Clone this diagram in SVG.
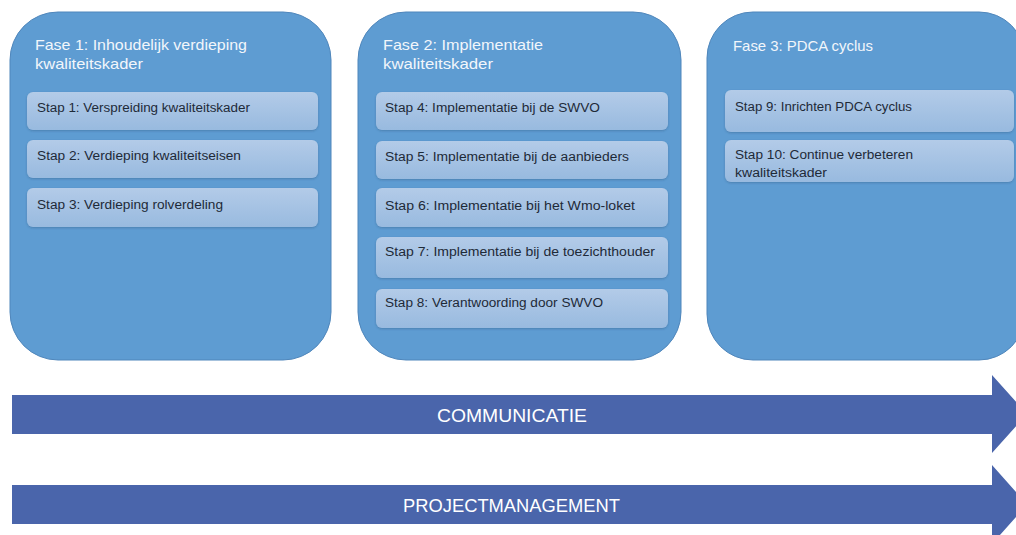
<svg xmlns="http://www.w3.org/2000/svg" width="1016" height="535" viewBox="0 0 1016 535">
<defs>
<linearGradient id="boxg" x1="0" y1="0" x2="0" y2="1">
<stop offset="0" stop-color="#b3cbe8"/>
<stop offset="1" stop-color="#98badf"/>
</linearGradient>
<filter id="sh" x="-5%" y="-5%" width="110%" height="115%">
<feDropShadow dx="0" dy="1" stdDeviation="1" flood-color="#2c4a70" flood-opacity="0.35"/>
</filter>
</defs>
<style>
.panel{fill:#5e9cd2;stroke:#4f86bb;stroke-width:1}
.box{fill:url(#boxg);stroke:none}
.title{font-family:"Liberation Sans",Arial,sans-serif;font-size:15px;fill:#f2f6fb}
.step{font-family:"Liberation Sans",Arial,sans-serif;font-size:12.5px;fill:#1e2a38}
.arrow{fill:#4a65ab}
.atext{font-family:"Liberation Sans",Arial,sans-serif;font-size:18px;fill:#ffffff;text-anchor:middle}
</style>
<rect width="1016" height="535" fill="#ffffff"/>

<g id="fase1">
<rect class="panel" x="10" y="12" width="321" height="348" rx="48" ry="48"/>
<text class="title" x="35" y="50" textLength="212" lengthAdjust="spacingAndGlyphs">Fase 1: Inhoudelijk verdieping</text>
<text class="title" x="35" y="69" textLength="108" lengthAdjust="spacingAndGlyphs">kwaliteitskader</text>
</g>
<g id="stap1">
<rect class="box" x="27" y="92" width="291" height="38" rx="6" filter="url(#sh)"/>
<text class="step" x="37" y="112" textLength="213" lengthAdjust="spacingAndGlyphs">Stap 1: Verspreiding kwaliteitskader</text>
</g>
<g id="stap2">
<rect class="box" x="27" y="140" width="291" height="38" rx="6" filter="url(#sh)"/>
<text class="step" x="37" y="160" textLength="204" lengthAdjust="spacingAndGlyphs">Stap 2: Verdieping kwaliteitseisen</text>
</g>
<g id="stap3">
<rect class="box" x="27" y="188" width="291" height="39" rx="6" filter="url(#sh)"/>
<text class="step" x="37" y="209" textLength="186" lengthAdjust="spacingAndGlyphs">Stap 3: Verdieping rolverdeling</text>
</g>

<g id="fase2">
<rect class="panel" x="358" y="12" width="323" height="348" rx="48" ry="48"/>
<text class="title" x="383" y="50" textLength="160" lengthAdjust="spacingAndGlyphs">Fase 2: Implementatie</text>
<text class="title" x="383" y="69" textLength="110" lengthAdjust="spacingAndGlyphs">kwaliteitskader</text>
</g>
<g id="stap4">
<rect class="box" x="376" y="92" width="292" height="38" rx="6" filter="url(#sh)"/>
<text class="step" x="385" y="112" textLength="215" lengthAdjust="spacingAndGlyphs">Stap 4: Implementatie bij de SWVO</text>
</g>
<g id="stap5">
<rect class="box" x="376" y="141" width="292" height="38" rx="6" filter="url(#sh)"/>
<text class="step" x="385" y="161" textLength="244" lengthAdjust="spacingAndGlyphs">Stap 5: Implementatie bij de aanbieders</text>
</g>
<g id="stap6">
<rect class="box" x="376" y="188" width="292" height="39" rx="6" filter="url(#sh)"/>
<text class="step" x="385" y="210" textLength="250" lengthAdjust="spacingAndGlyphs">Stap 6: Implementatie bij het Wmo-loket</text>
</g>
<g id="stap7">
<rect class="box" x="376" y="237" width="292" height="41" rx="6" filter="url(#sh)"/>
<text class="step" x="385" y="256" textLength="270" lengthAdjust="spacingAndGlyphs">Stap 7: Implementatie bij de toezichthouder</text>
</g>
<g id="stap8">
<rect class="box" x="376" y="289" width="292" height="39" rx="6" filter="url(#sh)"/>
<text class="step" x="385" y="307" textLength="218" lengthAdjust="spacingAndGlyphs">Stap 8: Verantwoording door SWVO</text>
</g>

<g id="fase3">
<rect class="panel" x="707" y="12" width="318" height="348" rx="46" ry="46"/>
<text class="title" x="733" y="51" textLength="140" lengthAdjust="spacingAndGlyphs">Fase 3: PDCA cyclus</text>
</g>
<g id="stap9">
<rect class="box" x="725" y="90" width="289" height="42" rx="6" filter="url(#sh)"/>
<text class="step" x="735" y="111" textLength="177" lengthAdjust="spacingAndGlyphs">Stap 9: Inrichten PDCA cyclus</text>
</g>
<g id="stap10">
<rect class="box" x="725" y="140" width="289" height="42" rx="6" filter="url(#sh)"/>
<text class="step" x="735" y="159" textLength="178" lengthAdjust="spacingAndGlyphs">Stap 10: Continue verbeteren</text>
<text class="step" x="735" y="177" textLength="92" lengthAdjust="spacingAndGlyphs">kwaliteitskader</text>
</g>

<g id="connectors">
<g id="communicatie">
<polygon class="arrow" points="12,395 992,395 992,375 1027,414 992,453 992,434 12,434"/>
<text class="atext" x="512" y="422" textLength="150" lengthAdjust="spacingAndGlyphs">COMMUNICATIE</text>
</g>
<g id="projectmanagement">
<polygon class="arrow" points="12,485 992,485 992,465 1027,504.5 992,544 992,524 12,524"/>
<text class="atext" x="511.5" y="512" textLength="217" lengthAdjust="spacingAndGlyphs">PROJECTMANAGEMENT</text>
</g>
</g>
</svg>
